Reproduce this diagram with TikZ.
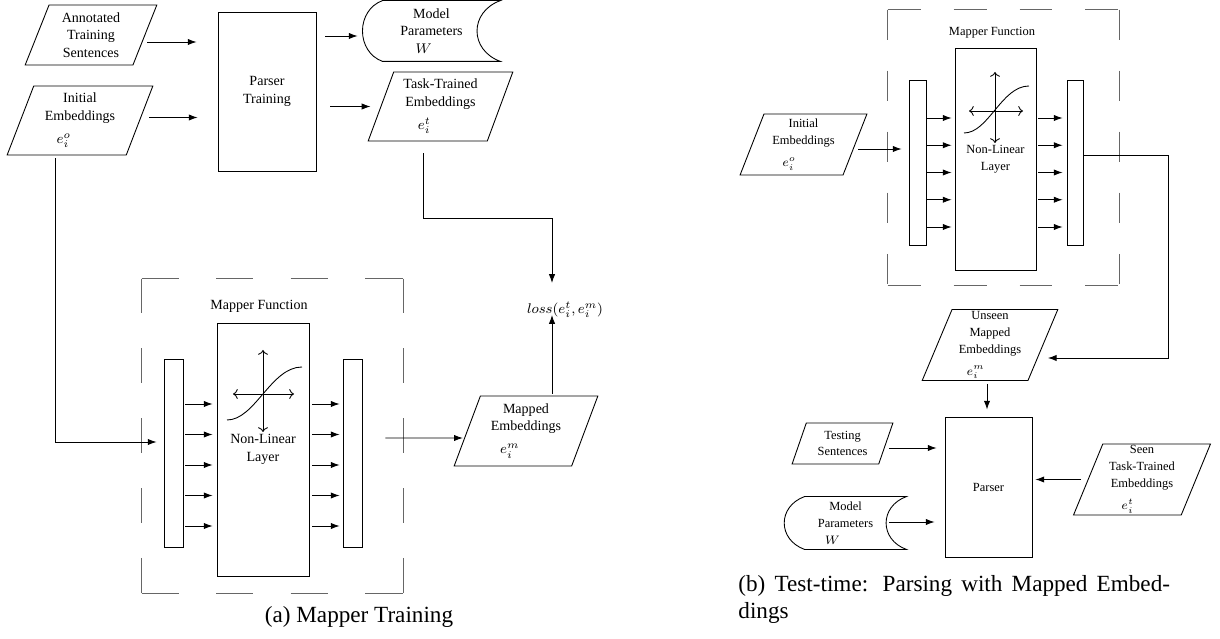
\documentclass[tikz,border=0pt]{standalone}
\usepackage{fontspec}
\setmainfont{Liberation Serif}
\usepackage{amsmath}
\usetikzlibrary{arrows,arrows.meta,shapes,positioning,calc}

\newcommand\pw{0.57pt}
\newcommand\msym[1]{\hspace*{-2.3em}#1}

\tikzset{
  io/.style={trapezium, trapezium left angle=70, trapezium right angle=110,
    trapezium stretches=true, draw, align=center, inner sep=1pt},
  blk/.style={rectangle, draw, align=center, inner sep=1pt},
  bar/.style={rectangle, draw, inner sep=0pt},
  store/.style={rectangle, align=center, inner sep=0pt},
  arr/.style={->,>={Latex[length=5pt,width=3.6pt]}},
  mapper/.style={draw=black!60, line width=0.8pt},
}

\begin{document}
\begin{tikzpicture}[x=0.57pt, y=-0.57pt, line width=0.5pt]
    \useasboundingbox (0,0) rectangle (1220,639);

    % (a) mapper training
    \begin{scope}[font=\fontsize{8}{10}\selectfont]
        \node[io, minimum width=132*\pw, minimum height=60*\pw] (annot) at (91,35) {Annotated\\Training\\Sentences};
        \node[io, minimum width=146*\pw, minimum height=69*\pw] (initL) at (80,120.5) {Initial\\Embeddings\\[3pt]\msym{$e_i^o$}};
        \node[blk, minimum width=98*\pw, minimum height=159*\pw] (ptrain) at (267,91.5) {Parser\\Training};
        \node[store, minimum width=137*\pw, minimum height=60*\pw] (modelL) at (431.5,31) {Model\\Parameters\\\hspace*{-1.1em}$W$};
        \node[io, minimum width=145*\pw, minimum height=69*\pw] (taskL) at (440.5,106.5) {Task-Trained\\Embeddings\\[3pt]\msym{$e_i^t$}};
        \node (loss) at (565,310) {$loss(e_i^t,e_i^m)$};
        \node[io, minimum width=144*\pw, minimum height=70*\pw] (mapped) at (526,431) {Mapped\\Embeddings\\[3pt]\msym{$e_i^m$}};

        \node[inner sep=0pt, minimum width=261*\pw, minimum height=314*\pw] (boxL) at (272.5,436) {};
        \node (mfL) at (259,306) {Mapper Function};
        \node[blk, minimum width=92*\pw, minimum height=253*\pw] (nlL) at (263,449.5) {Non-Linear\\Layer};
        \node[bar, minimum width=19*\pw, minimum height=188*\pw] (barLin) at (173.5,453) {};
        \node[bar, minimum width=19*\pw, minimum height=188*\pw] (barLout) at (352.5,453) {};

        \draw ($(modelL.north west)+(20,0)$) -- (modelL.north east)
            to[out=-160,in=160,looseness=1.4] (modelL.south east)
            -- ($(modelL.south west)+(20,0)$)
            to[out=160,in=-160,looseness=1.2] ($(modelL.north west)+(20,0)$);

        \draw[mapper, dash pattern=on 21.25pt off 21.25pt] (boxL.north west) -- (boxL.north east);
        \draw[mapper, dash pattern=on 21.25pt off 21.25pt] (boxL.south west) -- (boxL.south east);
        \draw[mapper, dash pattern=on 19.9pt off 19.9pt] (boxL.north west) -- (boxL.south west);
        \draw[mapper, dash pattern=on 19.9pt off 19.9pt] (boxL.north east) -- (boxL.south east);

        \begin{scope}[shift={(nlL.center)}]
            \draw[<->] (-30,-55.5) -- (31,-55.5);
            \draw[<->] (0,-99.5) -- (0,-17.5);
            \draw (-36,-29.5) .. controls (-8,-29.5) and (8,-82.5) .. (39,-82.5);
        \end{scope}

        \foreach \k in {0,...,4} {
            \draw[arr] ($(barLin.east)+(2,-49+30.5*\k)$) -- ($(nlL.west |- barLin.east)+(-4,-49+30.5*\k)$);
            \draw[arr] ($(nlL.east |- barLin.east)+(3,-49+30.5*\k)$) -- ($(barLout.west)+(-3,-49+30.5*\k)$);
        }

        \draw[arr] ($(annot.east)+(2,7)$) -- ($(ptrain.west |- annot.east)+(-21,7)$);
        \draw[arr] ($(initL.east)+(9,-3)$) -- ($(ptrain.west |- initL.east)+(-20,-3)$);
        \draw[arr] ($(ptrain.east |- modelL.west)+(9,5)$) -- ($(modelL.west)+(-5,5)$);
        \draw[arr] ($(ptrain.east |- taskL.west)+(14,0)$) -- ($(taskL.west)+(-10,0)$);
        \draw[arr] ($(taskL.center |- taskL.south)+(-17.5,12)$) |- ($(loss.center)+(-13,-92)$) -- ($(loss.center)+(-13,-27)$);
        \draw[arr] ($(mapped.center |- mapped.north)+(26,-2)$) -- ($(loss.center)+(-13,5)$);
        \draw[arr] ($(initL.center |- initL.south)+(-25,3)$) |- ($(barLin.west)+(-7,-11)$);
        \draw[arr] ($(barLout.east)+(23,-15)$) -- ($(mapped.west)+(-4,7)$);
    \end{scope}

    % (b) test time
    \begin{scope}[font=\fontsize{7.1}{9.6}\selectfont]
        \node[io, minimum width=127*\pw, minimum height=61*\pw] (initR) at (803.5,144.5) {Initial\\Embeddings\\[3pt]\msym{$e_i^o$}};
        \node[inner sep=0pt, minimum width=231*\pw, minimum height=275*\pw] (boxR) at (1003.5,147.5) {};
        \node (mfR) at (992,33) {Mapper Function};
        \node[blk, minimum width=81*\pw, minimum height=222*\pw] (nlR) at (995.5,159) {Non-Linear\\Layer};
        \node[bar, minimum width=17*\pw, minimum height=165*\pw] (barRin) at (917.5,162.5) {};
        \node[bar, minimum width=16*\pw, minimum height=165*\pw] (barRout) at (1075,162.5) {};
        \node[io, minimum width=136*\pw, minimum height=70*\pw] (unseen) at (990,345) {Unseen\\Mapped\\Embeddings\\[3pt]\msym{$e_i^m$}};
        \node[blk, minimum width=87*\pw, minimum height=140*\pw] (parser) at (988.5,487) {Parser};
        \node[io, minimum width=101*\pw, minimum height=41*\pw] (testing) at (842.5,443.5) {Testing\\Sentences};
        \node[store, minimum width=121*\pw, minimum height=52*\pw] (modelR) at (845.5,523) {Model\\Parameters\\\hspace*{-2.1em}$W$};
        \node[io, minimum width=138*\pw, minimum height=71*\pw] (seen) at (1142,479.5) {Seen\\Task-Trained\\Embeddings\\[3pt]\msym{$e_i^t$}};

        \draw ($(modelR.north west)+(20,0)$) -- (modelR.north east)
            to[out=-160,in=160,looseness=1.4] (modelR.south east)
            -- ($(modelR.south west)+(20,0)$)
            to[out=160,in=-160,looseness=1.4] ($(modelR.north west)+(20,0)$);

        \draw[mapper, dash pattern=on 18.8pt off 18.8pt] (boxR.north west) -- (boxR.north east);
        \draw[mapper, dash pattern=on 18.8pt off 18.8pt] (boxR.south west) -- (boxR.south east);
        \draw[mapper, dash pattern=on 17.4pt off 17.4pt] (boxR.north west) -- (boxR.south west);
        \draw[mapper, dash pattern=on 17.4pt off 17.4pt] (boxR.north east) -- (boxR.south east);

        \begin{scope}[shift={(nlR.center)}]
            \draw[<->] (-26.5,-48) -- (27.5,-48);
            \draw[<->] (-0.5,-87) -- (-0.5,-16);
            \draw (-31.5,-26) .. controls (-7,-26) and (6,-73) .. (33.5,-73);
        \end{scope}

        \foreach \k in {0,...,4} {
            \draw[arr] ($(barRin.east)+(1,-44.5+27.25*\k)$) -- ($(nlR.west |- barRin.east)+(-3,-44.5+27.25*\k)$);
            \draw[arr] ($(nlR.east |- barRin.east)+(2,-44.5+27.25*\k)$) -- ($(barRout.west)+(-4,-44.5+27.25*\k)$);
        }

        \draw[arr] ($(initR.east)+(3,4.5)$) -- ($(barRin.west |- initR.east)+(-7,4.5)$);
        \draw[arr] ($(barRout.east)+(0,-7.5)$) -| ($(unseen.east)+(125.5,13)$) -- ($(unseen.east)+(4.5,13)$);
        \draw[arr] ($(unseen.center |- unseen.south)+(-3,3)$) -- ($(parser.north)+(-1.5,-7)$);
        \draw[arr] ($(testing.east)+(2.5,4.5)$) -- ($(parser.west |- testing.east)+(-8,4.5)$);
        \draw[arr] ($(modelR.east)+(-17,-1)$) -- ($(parser.west |- modelR.east)+(-10,-1)$);
        \draw[arr] ($(seen.west)+(-6.5,0)$) -- ($(parser.east |- seen.west)+(3,0)$);
    \end{scope}

    % captions
    \node[font=\fontsize{13.2}{15.4}\selectfont] (capa) at (359,617) {(a) Mapper Training};
    \node[font=\fontsize{13.2}{15.4}\selectfont, anchor=north west, text width=246pt, align=justify, inner sep=0pt] (capb) at (738,575) {(b) Test-time: Parsing with Mapped Embed-\linebreak dings};
\end{tikzpicture}
\end{document}
